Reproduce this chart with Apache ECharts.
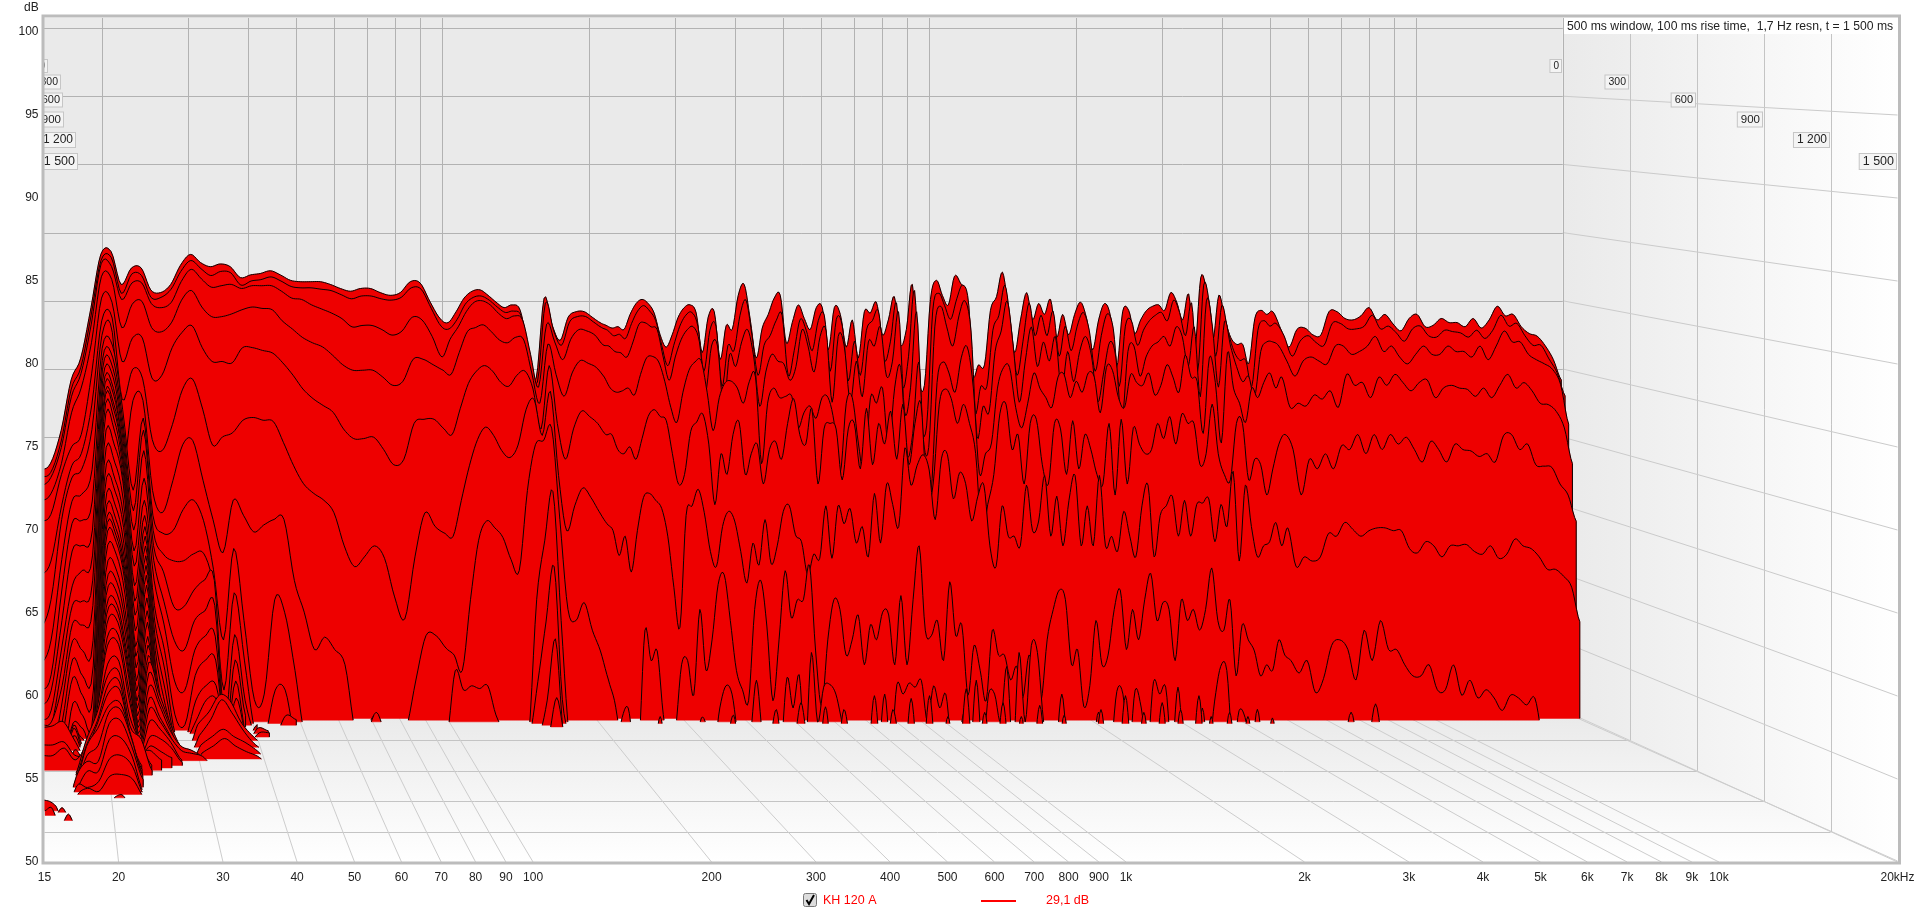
<!DOCTYPE html>
<html><head><meta charset="utf-8"><style>html,body{margin:0;padding:0;background:#fff}#c{width:1920px;height:915px}</style>
<script src="https://cdn.jsdelivr.net/npm/echarts@6/dist/echarts.min.js"></script></head><body><div id="c"></div><script>
const freqs=[15,15.7,16.5,17.3,18.1,19,19.9,20.9,21.9,23,24.1,25.2,26.4,27.7,29,30.4,31.9,33.4,35,36.7,38.5,40.4,42.3,44.4,46.5,48.8,51.1,53.6,56.2,58.9,61.8,64.8,67.9,71.2,74.6,78.2,82,86,90.1,94.5,99,
102.8,106.8,110.9,115.2,119.6,124.2,129,134,139.2,144.6,150.1,155.9,161.9,168.2,174.7,181.4,188.4,195.7,203.2,211,
217,223.3,229.7,236.3,243.1,250.1,257.3,264.8,272.4,280.2,288.3,296.6,305.2,314,323,332.3,341.9,351.7,361.9,372.3,383,394,405.4,417,429.1,441.4,454.1,467.2,480.7,494.5,508.8,523.4,538.5,554,570,586.4,603.3,620.6,638.5,656.9,675.8,695.3,715.3,735.9,757.1,778.9,801.3,824.4,848.2,872.6,897.7,923.6,950.2,977.6,1006,1035,1064,1095,1127,1159,1193,1227,1262,1299,1336,1375,1414,1455,1497,1540,1585,1630,1677,1725,1775,1826,1879,1933,1989,2046,2105,2165,2228,2292,2358,2426,2496,2568,2642,2718,2796,2877,2960,3045,3133,3223,3316,3411,3510,3611,3715,3822,3932,4045,4162,4282,4405,4532,4663,4797,4935,5077,
5275,5479,5690,5910,6138,6375,6621,6877,7142,7418,7704,8002,8311,8631,8965,9311,9670,10043,10431,10834,11252,11686,12137,12606,13092,13598,14123,14668,15234,15823,16433,17068,17727,18411,19122,19860];

const s0=[67.6,68.1,70.5,74.2,75.8,79.5,83.4,83.6,81.2,82.4,82.4,80.8,80.6,81.2,82.6,83.4,82.8,82.5,82.7,82.5,81.7,81.9,82,82.2,81.9,81.5,81.4,81.4,81.4,81.2,80.9,80.7,80.9,80.9,80.6,80.4,80.6,81.4,81.3,79.9,78.7,
78.4,79.2,80.2,80.7,80.8,80.4,79.9,79.5,79.7,79.3,76.5,74.3,80.2,78.2,77.1,78.8,79.2,79.2,78.8,78.4,
78.2,78,78.1,77.9,79,79.8,80.1,79.8,79.1,77.5,76.6,77.5,78.8,79.5,79.7,79.1,76.2,78.8,79.2,75.7,78.2,77.9,80.4,81.2,78.6,75.8,78,79,80.2,80.4,76.9,78.4,79.7,78.7,77.9,79.5,79.5,76.4,79.5,79,76.6,78.6,75.8,79.2,79.1,79.9,77.5,78.6,80.3,76.8,77.9,81.2,74.6,73.8,80.1,81.5,80.4,79.7,81.8,81.3,80.2,74.6,75.3,75.3,79.3,80.3,
82.1,79.3,76.2,78.6,80.6,78.6,79.8,79,80.1,77.3,79,77.5,79,79.9,78.7,76.4,78.6,79.8,78.8,75.1,79.2,79.3,77.6,78.6,79.3,79.6,79.7,79.3,80.6,79.9,78.6,80.5,76.4,81.7,80.6,77.1,80.4,78.7,77.3,76.8,76.8,75.4,78.7,79.3,79,79.2,
77.9,76.6,77.9,78,77.5,77.5,79.2,79.2,78.7,78.6,78.9,79.5,78.6,79,78.3,77.8,78.7,79,78.1,78.2,78.7,78.4,78.4,78.1,78.7,78,78.6,79.6,78.9,79,78.1,77.6,77.4,76.7,75.7,74.2];

const s1=[67.2,67.5,69.8,73.6,75.2,79,83,83.2,80.6,82,81.9,80.3,80.3,80.9,82.2,83,82.4,81.9,82.2,82.1,81.2,81.5,81.6,81.8,81.5,81.1,81,81,80.9,80.8,80.5,80.2,80.4,80.4,80.2,80.1,80.3,81,80.9,79.5,78.2,
78,78.7,79.8,80.3,80.4,80.1,79.6,79.2,79.3,78.9,76,74.1,79.9,77.9,76.8,78.5,78.9,78.9,78.5,78.1,
77.9,77.5,77.6,77.3,78.4,79.3,79.7,79.3,78.6,76.8,75.3,76.8,78.2,79,79.2,78.2,74.9,77.9,78.2,73.8,76.8,76.4,79,80.1,77.5,74.6,76.8,77.5,78.6,79,74.6,76.4,78.7,77.9,76.4,78.6,79,74.9,78.7,78.2,74.2,77.1,74.6,77.9,78.6,79.3,75.7,77.1,79.9,73.8,76,80.8,71.6,70.9,79.3,80.6,79.7,78.7,80.2,81.2,79.7,72,73.8,73.8,77.9,79,
81.2,78.2,74.6,77.1,79.9,77.5,79,77.5,79.3,76,78.2,76.4,78.2,79.2,77.9,74.9,77.5,79.1,78,73.8,78.2,78.6,76.8,77.9,78.6,79,79.2,78.6,80.1,79.2,77.5,79.9,74.9,81.2,79.7,76,79.7,77.9,76.4,75.7,75.7,73.8,77.9,78.6,78.2,78.4,
77.5,76,77.1,77.5,77,76.8,78.4,78.4,78,78,78.2,79,78,78.2,77.7,77.1,78,78.2,77.5,77.4,77.9,77.8,77.7,77.4,77.9,77.3,77.9,79,78.2,78.4,77.5,76.8,76.8,75.8,74.8,73.1];

const s2=[66.6,67.2,69.4,73.1,74.8,78.4,82.8,82.6,80.2,81.4,81.4,79.9,79.6,80,81.5,82.4,81.7,81.1,81.2,81.3,81,81.2,81.2,81.2,80.8,80.3,80.2,79.8,79.5,79.2,78.8,78.2,78.3,78.3,78,77.6,77.9,78.9,78.7,77.5,76,
77.3,78.2,79.3,80,80.1,79.8,79.2,78.8,79,78.7,76.2,73.8,78.4,77.1,75.8,77.3,78,77.9,77.6,76.9,
76.8,76.4,76.3,76,77.1,78.4,78.5,78.2,78,76,74.3,76,77.3,78,78.2,77.1,73.5,76.8,76.8,72.4,76.2,75.3,77.1,78,76,72.4,74.9,76.2,75.7,75.5,74.3,75.3,78,76.8,74.9,77.5,77.9,72.7,77.5,76.8,72.7,75.7,73.1,77.1,76.8,78.2,74.6,75.7,79.3,72,73.8,79.3,70.5,69.4,78.2,79.7,78.2,76.8,79,80.1,77.9,70.2,72.4,72,76.4,77.9,
80.1,76.8,72.7,75.7,78.2,75.3,77.1,75.7,77.5,73.5,76.4,74.2,76.4,77.5,76,72.7,74.9,77.1,76,71.3,76.4,76.8,74.6,76,76.8,77.1,77.5,76.8,78.2,77.5,75.3,78.2,73.1,80.1,78.2,73.8,78.6,76.8,75.3,74.2,74.6,73.1,76.4,77.1,77.1,76.8,
75.7,74.6,75.7,76,75.7,75.5,76.8,76.8,76.2,76.4,76.8,77.5,76.4,76.8,76,75.5,76.2,76.8,76.2,76.2,76.8,76.4,76.4,76,76.8,75.8,76.8,77.9,77.1,77.1,76.2,75.8,75.5,75.1,74,71.1];

const s3=[65.6,66.1,68.3,72,73.8,77.1,81.9,81.7,78.2,79.9,80.1,78.2,77.9,78.6,80.2,80.9,79.7,79,79,79.2,79.5,79.7,79.6,79.5,78.7,78.1,77.5,77.1,76.8,76.2,75.5,75.1,75.1,75.1,74.6,74,74.3,75.9,75.9,75.5,75.1,
74.8,76.4,77.9,78.2,78.4,77.9,77.3,77.1,77.5,77.3,74.9,72.7,77,74.8,73.2,74.9,75.8,75.6,75.3,74.6,
73.8,73.5,73.6,73.8,73.3,74.8,76,76.1,75.7,74.3,72.4,71.3,73.5,75.1,75.7,75.8,73.5,70.7,73.1,74.2,74.3,73.8,72.7,74.3,74.6,68.3,72.7,73.8,73.1,73.2,73.2,70.9,72,72.5,71.6,73.1,73.1,71.3,67.6,72.7,73.1,69.8,67.6,73.1,72.7,73.8,69.4,73.8,75.3,69,70.5,75.7,67.6,66.1,74.2,75.7,74.9,73.5,76,76.8,73.8,67.6,69,69.8,73.8,75.3,
75.3,72.4,70.9,72.7,74.9,73.8,73.1,72.4,74.6,74.8,73.1,74.3,73.5,74.9,74.6,72,75.3,75.1,73.1,72.4,74.8,74.2,74,74.9,73.3,74,75.5,74.6,73.5,76.2,74.6,74.3,70.5,76,74.2,69.8,76.4,73.8,72.7,71.3,73.8,73.1,74.2,74.9,73.8,74.6,
72.4,72.7,72.5,73.3,73,73.6,72.4,74.8,74,74.2,73.1,74.6,74,74.8,74.2,73.6,74.2,74.4,73.1,73.8,74,73.8,73.7,73.2,73.8,73.1,74,74.8,73.8,74.2,73.6,72.7,72.6,72.1,70.9,68.3];

const s4=[64.2,64.7,67.6,69.6,70.5,74.9,80.4,80.1,75.8,77.5,77.5,74.6,74.8,76.8,77.9,78.4,76.8,75.8,75.8,75.7,76.8,76.8,76.6,76.4,75.7,74.8,73.8,73.1,72.6,72.1,70.9,70.2,70.2,70.3,69.4,68.3,68.7,71.3,71.6,71.6,70.9,
70.5,72.4,74.2,75.1,75.5,75.1,74.3,74,74.8,75.1,73.8,70.9,75.5,71.3,68.7,70.9,72.2,71.8,71.3,70.5,
70.5,69.4,69.1,69.6,68.7,70.2,71.8,72.3,71.8,71.5,69.1,66.9,67.6,70.7,71.4,72,69.8,65.4,69.1,67.6,70.5,71.4,67.6,69.1,69.8,66.9,69.4,70,68.7,71.3,73.1,70.5,69.8,72.4,66.9,70.9,71.3,70.9,67.2,70.9,71.3,68,72.4,68.3,71.3,69.8,72.2,68.7,72.7,68.3,71.3,72.7,65.8,66.9,72.7,73.8,73.1,71.3,72.7,71.3,69.1,63.2,65.4,67.6,72,72.7,
69.4,70.5,66.9,71.3,71.6,68.3,66.9,71.3,70.9,67.6,71.5,68,70.5,69.4,67.6,66.9,71.3,66.1,71.6,66.9,71,69.8,69.1,69.4,71.3,70.2,71.8,69.8,72,71.3,71.3,68.3,69.1,72.7,69.1,67.6,67.2,71.3,71.3,67.2,68.7,68.3,66.1,68,69.8,70.5,
69.4,66.1,68.7,68,69.1,68,69.7,69.4,70.5,69.1,70.5,69.4,70.5,69.8,70.3,69.4,68.5,70,69.4,68.5,69.8,69.4,69.3,68.9,69.1,68.5,70.4,70.5,69.4,69.8,68.3,68.2,68.1,66.9,66.1,64.2];

const s5=[60.4,61.4,65.4,68.3,69.2,72.7,78.8,79,73.1,75.3,74.6,70.2,69.4,71.3,73.8,74.6,72.4,69.8,70.4,70.7,71.6,71.8,71.6,71.5,70,68.3,67,66.3,65.8,64.9,62.5,61,61.7,62.5,61.6,58.8,57.2,61.7,64.9,63.9,63.4,
63.2,65.8,68.3,70.2,71.1,70.5,69.4,68.9,69.8,72.4,73.1,70.5,73.7,67.6,63.6,65.4,66.7,66,65,64.1,
63.6,61.8,63.2,60.6,63.6,66,66.3,65.8,65.2,63.2,59.5,56.6,64.7,65.4,66.6,64.9,62.1,61,63.9,65,64.3,62.1,59.8,62.7,61.1,64.4,61.2,62.5,65,65.4,63.3,62.8,60.4,61.9,61.6,65.4,61.6,65.4,64.1,65.2,62.7,63.9,61.7,66.3,62.7,67,65.5,63.9,69.6,66.9,68.3,69.1,68,64.4,68.8,69.1,65.9,67.8,67,64.3,66.1,66.9,62.5,61,65.4,63.2,
63.2,62.5,66.9,63.6,64.3,67.6,63.2,66.1,62.5,65.8,67.6,62.5,65.4,62.5,67.6,62.5,63.2,62.1,65,63.2,61.7,65.4,66.9,61.7,64.7,65.4,66.1,63.2,65.8,63.2,65.5,65.6,65.9,62.8,65.5,63.9,67.9,61.4,66.9,63.9,61.7,62.5,62.8,64.2,62.5,63.8,
61,61.7,61.4,61.7,63.4,63.2,64.2,63.7,63.2,63.6,63.8,63.8,63.6,63.6,62.3,62,62.8,62.5,61.7,62.5,62.5,62.6,62.1,61.9,62.5,61.6,61.9,63,62.5,62.3,61.7,60.8,60.8,60.3,59.5,57];

const s6=[56.7,58.7,64.5,67.5,68.1,71,77.8,78,68.6,73.1,73.1,66.6,65,67.3,69.9,70.2,67.3,64.5,62.1,65.9,64.8,63.6,64.1,64.5,64.5,60.1,57.8,55.1,56,55.1,54,49.3,49.3,50.4,49.3,49.3,49.3,52.9,56.1,56.1,55.2,
54.7,53.6,58.7,63,64.4,63.9,63.2,61.6,60.8,66.6,69.9,70.2,71.1,64.5,58,57.2,58.5,56.5,55,52.9,
51.4,48.9,48.5,48.5,48.2,56.5,54.3,55,50.4,48.2,49.3,54,54.3,51.8,58,53.6,55.8,59.8,60.5,57.2,53.6,52.2,51.4,58,60.1,56.8,51.4,55.8,60.8,57.4,58.7,58.7,61.2,55,51,55.8,58.7,58,54.7,55.8,57.6,54,56.9,55.8,57.8,57.6,54,59,54,58.7,62.6,56.5,56.1,57.2,54.3,60,56.1,56.9,51.8,55.4,53.6,51.4,56.5,54.7,54.7,52.9,
53.9,51.6,54.7,52.9,51.4,55.8,58,59.4,58.7,54,55.1,51,52.5,57.2,54,54.7,58,59.4,55.1,58,55.8,58.7,60.6,57.2,58.5,58,54.3,58.7,57.2,58,56.5,58,61,57.2,56.5,58.7,53.2,56.9,55.8,55,53.2,54,53.6,55.8,54.7,54.3,
53.4,54.3,52,53,55.4,55.8,55.1,52.9,56.5,54.3,57.2,55.1,55.1,54,53.2,53.2,54,52.2,52.2,54,51.8,52.9,51.6,52.2,51.6,50.7,51.8,51.6,51.1,51.6,48.5,47,47,47,47,47];

const s7=[54.2,55.9,61.7,65.9,66.4,68.2,76.9,77.1,72.5,66.7,71.9,64.9,63.6,63.8,65.3,66,64.5,61,55.9,62.5,57.3,51.6,52,58.8,57.9,53.7,49,49,49,49,49,49,49,50.7,49,49,49,49,49,49,49,
53.7,52.3,52.6,52.4,52.6,50.5,49.4,49,49,49,58.8,63.1,66.6,57.3,49,49,49,49,49,49,
48,50.3,51,48,48,48,48,48,48,48,48,48,48,48,50.3,49.5,48,51,52.6,52,49,48,49,53,49,48,48,48,53.2,51,53.4,48,55,50,52.5,52.7,52,50,48,48,48,48,48,48,52,48,52.7,52,52.8,52.5,53,50,52.6,51,52,48,48,50.7,48,53,48,52,52,50,54,48,
55,50,55.5,55,50,48,48,52,48,48,48,48,48,50.7,48,48,52.2,52,48,52.3,51,48,52.9,52,52.5,48,52.5,48,50,48,
51,48,51.5,54,53.7,48,50.8,50.3,48,50.9,48,48,48,48,48,48,
48,48,48,48,48,48,50.7,48,48,51.3,48,48,48,48,48,48,48,48,48,48,48,48,48,48,48,48,48,48,48,48,48,48,48,48,48,48];

const midFreqs=[217,223.3,229.7,236.3,243.1,250.1,257.3,264.8,272.4,280.2,288.3,296.6,305.2,314,323,332.3,341.9,351.7,361.9,372.3,383,394,405.4,417,429.1,441.4,454.1,467.2,480.7,494.5,508.8,523.4,538.5,554,570,586.4,603.3,620.6,638.5,656.9,675.8,695.3,715.3,735.9,757.1,778.9,801.3,824.4,848.2,872.6,897.7,923.6,950.2,977.6,1006,1035,1064,1095,1127,1159,1193,1227,1262,1299,1336,1375,1414,1455,1497,1540,1585,1630,1677,1725,1775,1826,1879,1933,1989,2046,2105,2165,2228,2292,2358,2426,2496,2568,2642,2718,2796,2877,2960,3045,3133,3223,3316,3411,3510,3611,3715,3822,3932,4045,4162,4282,4405,4532,4663,4797,4935,5077];
const mid8=[48,48,48,48,48,48,48,50.5,48,48,48,48,48,48,48,48,48,48,49,50.6,48,48,48,48,48,49,51,48,48,49,51.5,49,48,48,51.2,48,48,51,49,48,48,48,52,48,48,51,49,48,51.8,48,48,52,48,48,50.5,48,48,52.5,48,48,50.8,48,48,51.5,48,48,
50.5,48,48,51.3,48,48,48,50.6,48,48,48,48,48,51,48,48,48,52,48,48,50.8,48,48,51.5,48,48,51,48,48,52,48,50.5,48,48,50.8,48,48,50.5,48,48,48,50.4,48,48,48,48];

const low8=[52.4,53.5,59.6,64.4,64.6,66,76.1,76.3,71.7,65.3,71.1,63.9,62.2,61.7,61.7,62.2,62.2,59.6,52.4,59.4,54.5,49.5,49.1,52.4,52.4,48.8];
const low9=[51.4,52.5,57.5,62.5,62.9,64,75.5,75.6,71,64,69.7,62.9,61,58.5,58.5,59.7,60.4,60.4,50.4,56.5,51.8,49.3,49.3,49.3,50.7,50.4];
const low10=[50.5,51.2,55.8,60.1,61.2,62.3,74.8,75,70.3,62.6,67.8,61.9,59,56.2,55.5,57.6,58.3,58.7,49.4,54.8,50.8];
const low11=[49.5,50.2,54.5,58.8,59.1,60.6,74.2,74.3,69.6,61.6,66.3,60.6,57.4,53.4,52.7,55.6,56.6,56.6,49.2,53.4,49.5];
const low12=[50.4,50.6,53.2,57.6,57.5,58.9,73.7,73.9,69.2,60.3,65.3,58.9,55.7,51.1,50.4,53.9,55,55,49.3,52.3,49.6,50.4];
const low13=[48,48,52.2,56.5,55.8,56.5,73.1,73.3,68.7,59.3,64.6,57.9,54.4,49.8,49.5,52.2,53.3,53.3,49.4,51.2];
const low14=[48,48,50.9,55.3,54.1,54.8,72.8,72.9,68.4,58.4,64,56.9,53.1,49.5,49.5,50.9,52.4,52.4,49.5,50.6,49.5,50.4,50.2];
const low15=[48,48,50,54.1,52.8,53.2,72.2,72.3,67.8,57.4,63.4,56,52.1,49.5,49.5,49.6,51.4,51.4];
const low16=[48,48,48,52.4,51.5,51.9,71.5,71.6,67.1,56.4,62.8,55,51.2,49.5,49.5,49.5,50.5,50.5,49.5,49.5,49.5,50.3,50.3];
const low17=[48,48,48,51.1,50.7,50.9,70.4,70.6,66.8,55.8,62.2,54.4,50.6];
const low18=[48,48,48,50.6,50.1,50.4,69.3,69.5,65.7,55.1,61.6,53.5,50.4];
const low19=[48,48,48,50.5,49.5,50.5,68.3,68.4,64.7,54.3,61,52.9,50.3];
const low20=[48,48,48,51.3,49.8,50.9,67.5,67.6,63.9,53.7,60.2,52.3,50.6];
const low21=[48,48,48,51.2,49.5,49.8,66.5,66.7,62.9,53.1,59.4,51.9,50.5];
const low22=[48,48,48,50.8,49.5,49.8,65.8,65.9,62.1,52.7,58.7,51.5,50.5];
const low23=[48,48,48,49.7,49.5,49.8,65.1,65.3,61.5,52.3,57.8,51.1,50.4];
const low24=[51.6,51.7,52,50.8,49.7,50.2,64.8,64.9,61.1,51.9,57.3,52.4,51,50.3];
const low25=[48,48,48,49.7,49.5,50.2,64.3,64.5,60.7,51.7,56.7,53.3,51.5,50.3];
const low26=[48,48,48,49.7,49.7,50.6,63.5,63.7,59.9,51.4,56.3,54.3,52.3,50.6,50.2,49.7];
const low27=[48,48,48,49.7,49.7,51,62.6,62.7,58.9,51.2,55.7,53.9,52.1,50.2];
const low28=[48,48,48,50.5,49.8,51.5,61.8,62,58.2,51,54.9,53.6,51.9,50.8,50.5,50.1,49.6];
const low29=[48,48,48,49.7,49.8,51.9,61.2,61.3,57.5,50.9,54.2,52.9,51.6,50.1];
const low30=[48,48,48,49.7,49.8,52.4,60.5,60.6,56.8,50.8,53.6,52.7,51.6,50.7,50.5,50.3,49.6];
const low31=[48,48,48,49.7,50.5,52.8,60.1,60.2,56.4,51,52.9,52.3,51.4,50.2];
const low32=[51.4,51.4,51.6,50.7,50.9,53,59.6,59.7,56,51,52,51.8,51.2,50.2];
const low33=[48,48,49.8,49.9,51.1,53.5,58.8,59,55.2,51.3,51.5,51.1,50.7];
const low34=[51,51,51.5,50.7,51.7,54,58.4,58.5,54.7,51.7,51.3,50.7];
const low35=[48,48,49.8,49.9,51.8,53.8,57.3,57.5,53.8,52,50.5];
const low36=[48,48,48,49.9,52.3,54.2,56.7,56.9,53.3,52.4,50.3];
const low37=[48,48,48,49.8,52.1,53.8,56.2,56.4,52.8,50.8];
const low38=[48,48,48,49.8,51.9,53.8,55.8,56,52.9,50.7];
const low39=[48,48,48,49.8,52.4,53.6,55.1,55.3,53.1,50.6];
const low40=[48,48,48,49.8,51.9,52.6,54.8,55,53.1,50.6];
const low41=[48,48,48,50.7,51.7,51.7,54.2,54.4,52.7,50.5];
const low42=[48,48,48,49.9,51.2,51.2,53.3,53.4,52.2,49.8];
const low43=[48,48,48,50.4,50.3,50.7,52.2,52.4,51.7,49.8];
const low44=[48,48,48,49.9,50.4,50.2,51.2,51.3,51,49.8];

const ridgeFreqs=[29.5,30.4,32,33.6,35.2,37,38.8,40.7];
const ridge300=[49.8,51.1,52,53.2,52.8,51.3,50.4,49.8];
const ridge367=[49.8,50.8,51.9,53.3,52.4,51.2,50.3,49.8];
const ridge433=[49.7,50.6,51.2,51.7,51.2,50.8,50.3,49.7];
const ridge483=[49.7,50.4,50.9,51.4,50.9,50.5,50.2,49.7];
const peakFreqs=[144.6,150.1,155.9,161.9,168.2,174.7];
const peak133=[49.2,53,57.3,61.3,51.7,49.2];
const peak150=[49.3,49.3,51.8,56.2,49.3,49.3];
const peak167=[49.3,49.3,49.3,52.1,49.3,49.3];
const tailFreqs=[19.9,20.4,20.9,21.4];
const tail867=[49.8,50.1,50.2,49.8];
const tipFreqsA=[14.9,15.4,15.8,16.1];
const tip995=[50.7,50.6,50.3,49.7];
const tipFreqsB=[15.8,16.2,16.6];
const tip1010=[49.8,50.3,49.8];
const tipFreqsC=[15.1,15.5,15.9];
const tip1040=[50.3,50.5,49.7];
const tipFreqsD=[16.2,16.6,17];
const tip1090=[49.8,50.4,49.8];

const freqTicks=[20,30,40,50,60,70,80,90,100,200,300,400,500,600,700,800,900,1000,2000,3000,4000,5000,6000,7000,8000,9000,10000,20000];
const freqLabels=[15,20,30,40,50,60,70,80,90,100,200,300,400,500,600,700,800,900,1000,2000,3000,4000,5000,6000,7000,8000,9000,10000,20000];
const dbTicks=[55,60,65,70,75,80,85,90,95,100];
const timeTicks=[0,300,600,900,1200,1500];
const timeNames=['0','300','600','900','1 200','1 500'];

const slices=[[0,s0,freqs],[17,s1,freqs],[33,s2,freqs],[50,s3,freqs],[67,s4,freqs],[83,s5,freqs],[100,s6,freqs],[117,s7,freqs],
[133,mid8,midFreqs],[133,low8,freqs],[133,peak133,peakFreqs],[150,low9,freqs],[150,peak150,peakFreqs],[167,low10,freqs],[167,peak167,peakFreqs],[183,low11,freqs],[200,low12,freqs],[217,low13,freqs],[233,low14,freqs],[250,low15,freqs],[267,low16,freqs],[283,low17,freqs],[300,low18,freqs],[300,ridge300,ridgeFreqs],[317,low19,freqs],[333,low20,freqs],[350,low21,freqs],[367,low22,freqs],[367,ridge367,ridgeFreqs],[383,low23,freqs],[400,low24,freqs],[417,low25,freqs],[433,low26,freqs],[433,ridge433,ridgeFreqs],[450,low27,freqs],[467,low28,freqs],[483,low29,freqs],[483,ridge483,ridgeFreqs],[500,low30,freqs],[523,low31,freqs],[548,low32,freqs],[572,low33,freqs],[595,low34,freqs],[618,low35,freqs],[643,low36,freqs],[667,low37,freqs],[690,low38,freqs],[715,low39,freqs],[738,low40,freqs],[762,low41,freqs],[785,low42,freqs],[810,low43,freqs],[833,low44,freqs],[867,tail867,tailFreqs],[995,tip995,tipFreqsA],[1010,tip1010,tipFreqsB],[1040,tip1040,tipFreqsC],[1090,tip1090,tipFreqsD]];

[s0,s1,s2,s3,s4,s5,s6,s7].forEach((a,i)=>{if(a.length!==freqs.length)throw new Error('slice '+i+' length '+a.length+' vs '+freqs.length)});
if(mid8.length!==midFreqs.length)throw new Error('mid8 '+mid8.length+' vs '+midFreqs.length);

const FLOOR=50,DEPTH=1500;
function project(api,f,db,t){
  const p=api.coord([f,db]),s=t/DEPTH;
  const bx=41+(p[0]-44.5)*487/593, by=710-(862-p[1])*13.64/16.6;
  return [bx+(p[0]-bx)*s, by+(p[1]-by)*s];
}
function curve(fs,vs){
  const out=[],n=vs.length;
  const u=i=>Math.log10(fs[Math.max(0,Math.min(n-1,i))]);
  const v=i=>vs[Math.max(0,Math.min(n-1,i))];
  for(let i=0;i<n-1;i++){
    for(let j=0;j<5;j++){
      const a=j/5,a2=a*a,a3=a2*a;
      const cr=(g)=>0.5*(2*g(i)+(g(i+1)-g(i-1))*a+(2*g(i-1)-5*g(i)+4*g(i+1)-g(i+2))*a2+(-g(i-1)+3*g(i)-3*g(i+1)+g(i+2))*a3);
      out.push([Math.pow(10,u(i)+(u(i+1)-u(i))*a),cr(v)]);
    }
  }
  out.push([fs[n-1],vs[n-1]]);
  return out;
}
const RED='#ee0000';
function renderSlice(params,api){
  const sl=slices[api.value(2)],t=sl[0],pts=curve(sl[2],sl[1]);
  const children=[];let run=[];
  const flush=(openEnd)=>{
    if(run.length<2){run=[];return;}
    const first=run[0],last=run[run.length-1];
    const top=run.map(q=>project(api,q[0],q[1],t));
    const bl=project(api,last[0],FLOOR,t),bf=project(api,first[0],FLOOR,t);
    children.push({type:'polygon',silent:true,shape:{points:top.concat([bl,bf])},style:{fill:RED,stroke:RED,lineWidth:0.5}});
    const line=openEnd?top.concat([bl]):top;
    children.push({type:'polyline',silent:true,shape:{points:line},style:{fill:null,stroke:'#0a0000',lineWidth:1}});
    run=[];
  };
  for(let i=0;i<pts.length;i++){
    const q=pts[i];
    if(q[1]>=FLOOR){
      if(i>0&&pts[i-1][1]<FLOOR){const p=pts[i-1],a=(FLOOR-p[1])/(q[1]-p[1]);run.push([p[0]+(q[0]-p[0])*a,FLOOR]);}
      run.push(q);
    }else if(run.length){
      const p=pts[i-1],a=(FLOOR-p[1])/(q[1]-p[1]);run.push([p[0]+(q[0]-p[0])*a,FLOOR]);flush(false);
    }
  }
  flush(true);
  return {type:'group',children};
}
function renderScene(params,api){
  const P=(f,d,t)=>project(api,f,d,t),ch=[];
  const bl=P(15,50,0),br=P(20000,50,0),fl=P(15,50,1500),fr=P(20000,50,1500);
  const TOP=18;
  const line=(a,b,c)=>ch.push({type:'line',silent:true,shape:{x1:a[0],y1:a[1],x2:b[0],y2:b[1]},style:{stroke:c,lineWidth:1}});
  ch.push({type:'rect',silent:true,shape:{x:bl[0],y:TOP,width:br[0]-bl[0],height:br[1]-TOP},style:{fill:'#eaeaea'}});
  ch.push({type:'polygon',silent:true,shape:{points:[bl,br,fr,fl]},style:{fill:{type:'linear',x:0,y:0,x2:0,y2:1,colorStops:[{offset:0,color:'#e9e9e9'},{offset:1,color:'#ffffff'}]}}});
  ch.push({type:'polygon',silent:true,shape:{points:[[br[0],TOP],[fr[0],TOP],fr,br]},style:{fill:{type:'linear',x:0,y:0,x2:1,y2:0,colorStops:[{offset:0,color:'#eaeaea'},{offset:1,color:'#ffffff'}]}}});
  timeTicks.slice(1,-1).forEach(t=>{const r=P(20000,50,t);line([fl[0],Math.round(r[1])+.5],[r[0],Math.round(r[1])+.5],'#c4c4c4');});
  freqTicks.forEach(f=>{line(P(f,50,0),P(f,50,1500),'#cdcdcd');});
  line([br[0]+1,br[1]+2],[fr[0],fr[1]-1],'#cdcdcd');
  timeTicks.slice(1,-1).forEach(t=>{const r=P(20000,50,t),x=Math.round(r[0])+.5;line([x,TOP],[x,r[1]],'#c4c4c4');});
  dbTicks.forEach(d=>{line(P(20000,d,0),P(20000,d,1500),'#cbcbcb');});
  dbTicks.forEach(d=>{const a=P(15,d,0),b=P(20000,d,0),y=Math.round(a[1])+.5;line([a[0],y],[b[0],y],'#b2b2b2');});
  freqTicks.forEach(f=>{const a=P(f,50,0),x=Math.round(a[0])+.5;line([x,TOP],[x,a[1]],'#b2b2b2');});
  return {type:'group',children:ch};
}
const labelRight=[1563,1630,1697,1764,1831,1898],labelLeft=[49,62,64,65,77,79],labelY=[66,82,100,119.5,140,161.5],labelSize=[10,10.5,11,11.5,12,12.5];
function renderOverlay(params,api){
  const ch=[];
  timeNames.forEach((n,i)=>{[labelRight[i],labelLeft[i]].forEach(x=>{
    ch.push({type:'text',silent:true,style:{text:n,x:x-2,y:labelY[i],align:'right',verticalAlign:'middle',font:labelSize[i]+'px "Liberation Sans"',fill:'#222',backgroundColor:'#f4f4f4',borderColor:'#c6c6c6',borderWidth:1,padding:[1,2,1,3]}});
  });});
  ch.push({type:'rect',silent:true,shape:{x:0,y:0,width:43,height:915},style:{fill:'#fff'}});
  ch.push({type:'rect',silent:true,shape:{x:1564,y:18,width:334,height:16},style:{fill:'#fff'}});
  ch.push({type:'text',silent:true,style:{text:'500 ms window, 100 ms rise time,  1,7 Hz resn, t = 1 500 ms',x:1567,y:26.5,verticalAlign:'middle',font:'12.2px "Liberation Sans"',fill:'#222'}});
  ch.push({type:'rect',silent:true,shape:{x:43,y:16,width:1856.5,height:847},style:{fill:null,stroke:'#bcbcbc',lineWidth:3}});
  return {type:'group',children:ch};
}
const chart=echarts.init(document.getElementById('c'),null,{renderer:'canvas'});
chart.setOption({
  animation:false,backgroundColor:'#fff',
  grid:{left:44.5,right:22.5,top:32,bottom:53,containLabel:false},
  xAxis:{type:'log',logBase:10,min:15,max:20000,z:20,axisLine:{show:false},axisTick:{show:false},splitLine:{show:false},minorTick:{show:false},minorSplitLine:{show:false},
    axisLabel:{customValues:freqLabels,margin:10,fontSize:12,fontFamily:'Liberation Sans',color:'#222',hideOverlap:false,showMinLabel:true,showMaxLabel:true,
      formatter:v=>{v=Number(v);if(v===20000)return '20kHz';return v>=1000?(v/1000)+'k':String(v);}}},
  yAxis:{type:'value',min:50,max:100,interval:5,z:20,axisLine:{show:false},axisTick:{show:false},splitLine:{show:false},
    axisLabel:{margin:6,fontSize:12,fontFamily:'Liberation Sans',color:'#222'}},
  graphic:[
    {type:'text',z:30,left:24,top:2,style:{text:'dB',font:'12px "Liberation Sans"',fill:'#222'}},
    {type:'rect',z:30,silent:true,shape:{x:803.5,y:893.5,width:13,height:13,r:2},style:{fill:'#dcdcdc',stroke:'#777',lineWidth:1}},
    {type:'polyline',z:31,silent:true,shape:{points:[[806.5,900],[809,904],[814,895]]},style:{fill:null,stroke:'#000',lineWidth:2}},
    {type:'text',z:30,left:823,top:894,style:{text:'KH 120 A',font:'12.5px "Liberation Sans"',fill:'#ff0000'}},
    {type:'rect',z:30,silent:true,shape:{x:981,y:900,width:35,height:2},style:{fill:'#ff0000'}},
    {type:'text',z:30,left:1046,top:894,style:{text:'29,1 dB',font:'12.5px "Liberation Sans"',fill:'#ff0000'}}
  ],
  series:[
    {type:'custom',z:1,coordinateSystem:'cartesian2d',clip:false,silent:true,data:[[15,50,0]],renderItem:renderScene},
    {type:'custom',z:2,coordinateSystem:'cartesian2d',clip:false,silent:true,data:slices.map((s,i)=>[15,50,i]),renderItem:renderSlice,progressive:0},
    {type:'custom',z:5,coordinateSystem:'cartesian2d',clip:false,silent:true,data:[[15,50,0]],renderItem:renderOverlay}
  ]
});
</script></body></html>
